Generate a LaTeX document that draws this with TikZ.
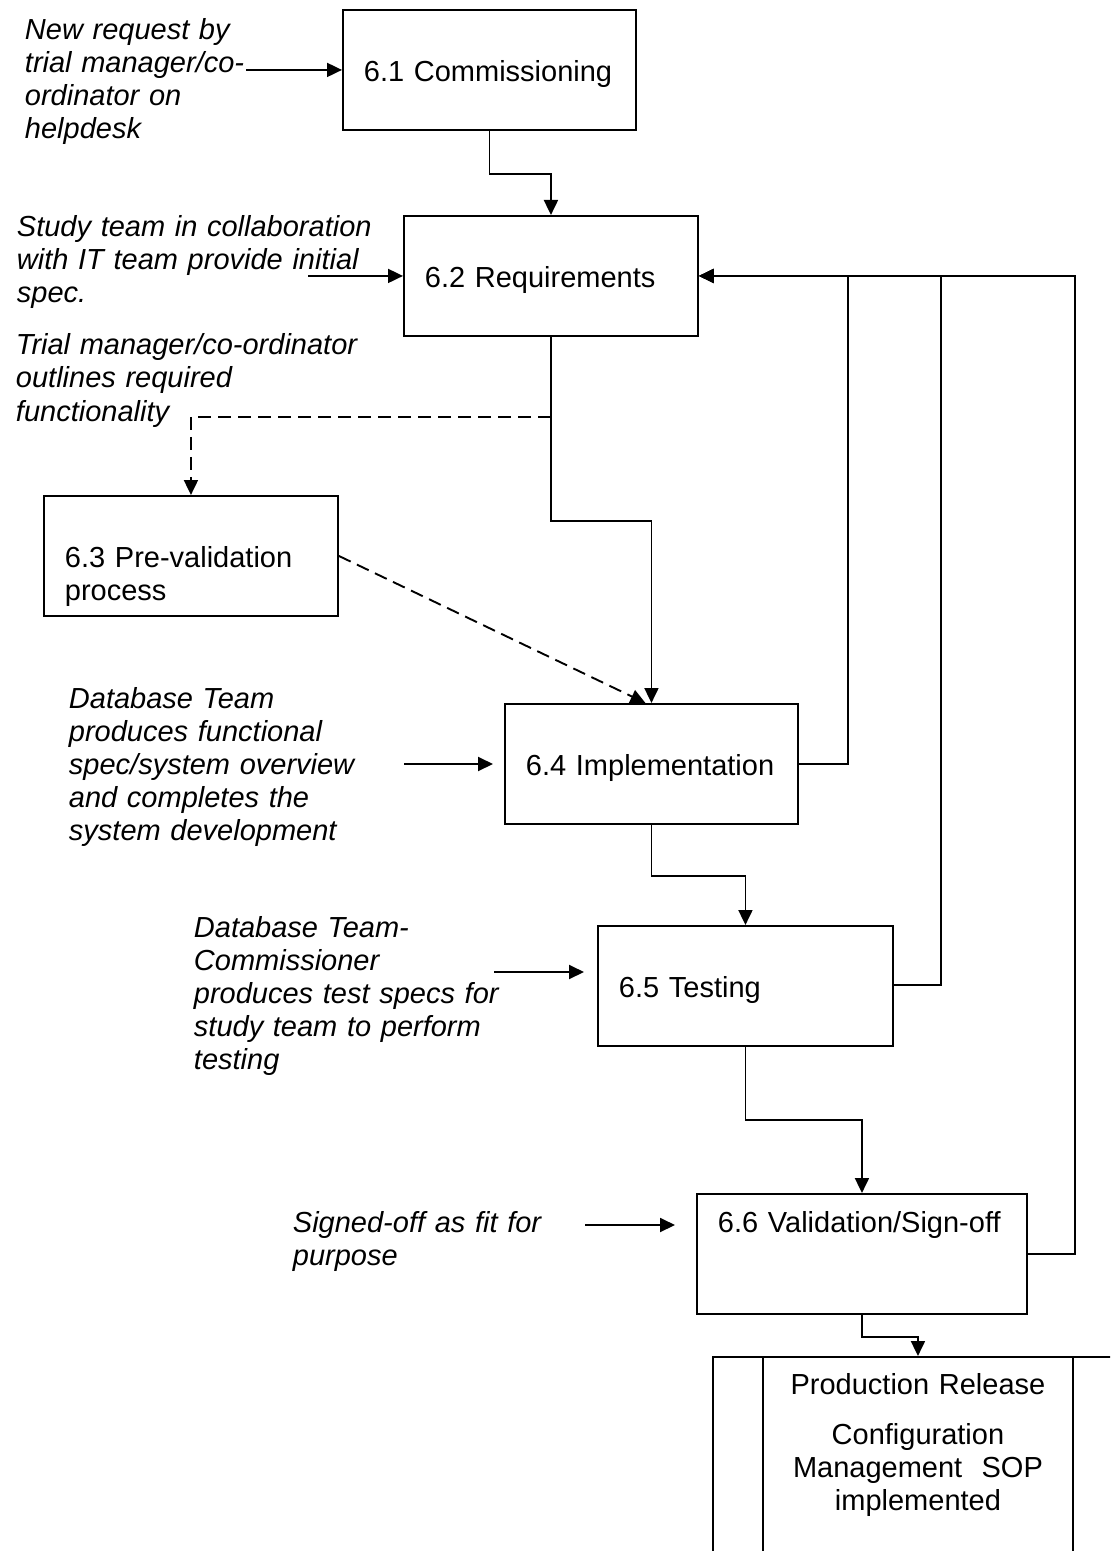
\documentclass[tikz,border=0pt]{standalone}
\usepackage{fontspec}
\setmainfont{Liberation Sans}
\usetikzlibrary{calc,arrows.meta}

\begin{document}
\begin{tikzpicture}[x=0.5pt,y=-0.5pt,line width=0.95pt,
    font=\fontsize{14.5}{16.5}\selectfont,
    arr/.style={-{Triangle[length=7.5pt,width=7pt]}},
    dsh/.style={dash pattern=on 6.5pt off 3.5pt},
    box/.style={draw,anchor=north west,inner xsep=10.5pt,inner ysep=0pt,align=left,text height=36pt,text depth=24pt},
    note/.style={anchor=base west,inner sep=0pt,text width=200pt,align=left,font=\fontsize{14.5}{16.5}\selectfont\itshape}]
    \useasboundingbox (0,0) rectangle (1110,1551);
    \clip (0,0) rectangle (1110,1551);

    % process boxes
    \node[box,text width=125.5pt] (b61) at (342,9) {6.1~Commissioning};
    \node[box,text width=126pt] (b62) at (403,215) {6.2~Requirements};
    \node[box,text width=126pt] (b63) at (43,495) {6.3~Pre-validation\\process};
    \node[box,text width=125.5pt] (b64) at (504,703) {6.4~Implementation};
    \node[box,text width=126.5pt] (b65) at (597,925) {6.5~Testing};
    \node[box,text width=144pt,text height=19.5pt,text depth=40.5pt] (b66) at (696,1193) {6.6~Validation/Sign-off};
    \node[draw,anchor=north west,inner xsep=27.5pt,inner ysep=0pt,text width=150pt,align=center,text height=19pt,text depth=106pt] (prod) at (712,1356)
        {Production Release\\[8.5pt]Configuration\\Management~~SOP\\implemented};
    \draw ($(prod.north west)+(51,0)$) -- ($(prod.south west)+(51,0)$);
    \draw ($(prod.north east)+(-51,0)$) -- ($(prod.south east)+(-51,0)$);

    % inputs
    \node[note] (n61) at (24,40) {New request by\\trial manager/co-\\ordinator on\\helpdesk};
    \node[note] (n62) at (16,237) {Study team in collaboration\\with IT team provide initial\\spec.};
    \node[note] (n63) at (15,355) {Trial manager/co-ordinator\\outlines required\\functionality};
    \node[note] (n64) at (68,708) {Database Team\\produces functional\\spec/system overview\\and completes the\\system development};
    \node[note] (n65) at (193,937) {Database Team-\\Commissioner\\produces test specs for\\study team to perform\\testing};
    \node[note] (n66) at (292,1232) {Signed-off as fit for\\purpose};

    \coordinate (s61) at ($(b61.west)+(-96,0)$);
    \coordinate (s62) at ($(b62.west)+(-95,0)$);
    \coordinate (s64) at (404,764);
    \coordinate (e64) at (493,764);
    \coordinate (s65) at (494,972);
    \coordinate (e65) at (584,972);
    \coordinate (s66) at (585,1225);
    \coordinate (e66) at (675,1225);
    \draw[arr] (s61) -- (b61.west);
    \draw[arr] (s62) -- (b62.west);
    \draw[arr] (s64) -- (e64);
    \draw[arr] (s65) -- (e65);
    \draw[arr] (s66) -- (e66);

    % main flow
    \draw[arr] (b61.south) -- ++(0,43) -| (b62.north);
    \draw[arr] (b62.south) -- ++(0,184) -| (b64.north);
    \coordinate (br) at ($(b62.south)+(0,80)$);
    \draw[arr,dsh] (br) -| (b63.north);
    \draw[arr,dsh] (b63.east) -- ($(b64.north)+(-6,0)$);
    \draw[arr] (b64.south) -- ++(0,51) -| (b65.north);
    \draw[arr] (b65.south) -- ++(0,73) -| (b66.north);
    \draw[arr] (b66.south) -- ++(0,22) -| (prod.north);

    % feedback to requirements
    \draw[arr] (b64.east) -- ++(49,0) |- (b62.east);
    \draw[arr] ($(b65.east)+(0,-1)$) -- ++(47,0) |- (b62.east);
    \draw[arr] (b66.east) -- ++(47,0) |- (b62.east);
\end{tikzpicture}
\end{document}
